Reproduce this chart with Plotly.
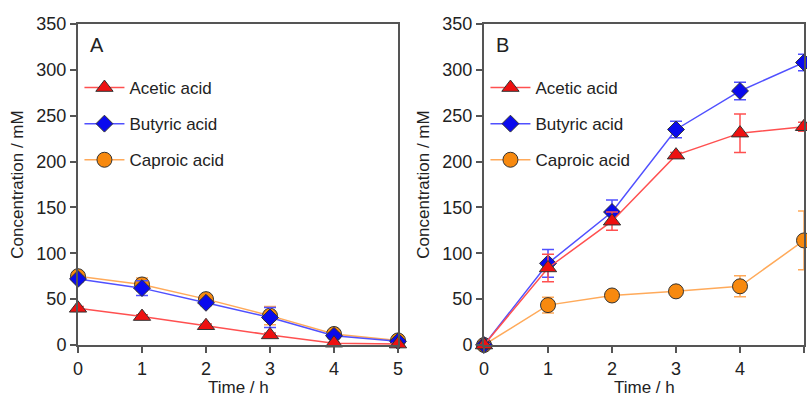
import plotly.graph_objects as go

time = [0, 1, 2, 3, 4, 5]

# Panel A
a_acetic = [40, 31, 21, 11, 2, 1]
a_acetic_err = [2, 2, 2, 2, 1, 1]
a_butyric = [72, 62, 46, 30, 10, 4]
a_butyric_err = [3, 8, 3, 11, 3, 2]
a_caproic = [75, 66, 50, 32, 12, 5]
a_caproic_err = [3, 7, 3, 10, 3, 2]

# Panel B
b_acetic = [0, 84, 135, 207, 231, 238]
b_acetic_err = [1, 15, 10, 3, 21, 5]
b_butyric = [0, 89, 145, 235, 277, 308]
b_butyric_err = [1, 15, 13, 9, 9.5, 9]
b_caproic = [0, 43.5, 54, 58.5, 64, 114]
b_caproic_err = [1, 8.5, 3, 3, 11.5, 32]

series_names = ["Acetic acid", "Butyric acid", "Caproic acid"]
panel_labels = ["A", "B"]
x_title = "Time / h"
y_title = "Concentration / mM"

FONT = "Arial, Liberation Sans, Helvetica, sans-serif"
styles = {
    "Acetic acid": dict(line="#ff5050", fill="#ee1010", symbol="triangle-up", size=15),
    "Butyric acid": dict(line="#5050ff", fill="#0a0aee", symbol="diamond", size=13),
    "Caproic acid": dict(line="#ffaa5a", fill="#f7890f", symbol="circle", size=15),
}

fig = go.Figure()
panels = [
    ("x", "y", "legend", {"Acetic acid": (a_acetic, a_acetic_err), "Butyric acid": (a_butyric, a_butyric_err), "Caproic acid": (a_caproic, a_caproic_err)}),
    ("x2", "y2", "legend2", {"Acetic acid": (b_acetic, b_acetic_err), "Butyric acid": (b_butyric, b_butyric_err), "Caproic acid": (b_caproic, b_caproic_err)}),
]
for xa, ya, lg, data in panels:
    # draw order: caproic bottom, acetic top
    for name in reversed(series_names):
        vals, errs = data[name]
        st = styles[name]
        fig.add_trace(go.Scatter(
            x=time, y=vals, name=name, mode="lines+markers",
            xaxis=xa, yaxis=ya, legend=lg, legendgroup=lg + name,
            legendrank=series_names.index(name) + 1,
            line=dict(color=st["line"], width=1.5),
            marker=dict(symbol=st["symbol"], size=st["size"], color=st["fill"],
                        line=dict(color="#333333", width=1)),
            error_y=dict(type="data", array=errs, color=st["line"], thickness=1.5, width=6),
            cliponaxis=False,
        ))

W, H = 807, 396
ml, mr, mt, mb = 78, 3, 24, 51
pw = W - ml - mr
ph = H - mt - mb
dA = [0, (398 - 78) / pw]
dB = [(484 - 78) / pw, 1]

axis_common = dict(
    showline=True, linewidth=2, linecolor="#555555", mirror=True,
    ticks="outside", ticklen=6, tickwidth=2, tickcolor="#555555",
    showgrid=False, zeroline=False, automargin=False,
    tickfont=dict(family=FONT, size=18, color="#222222"),
)
xcommon = dict(axis_common, range=[0, 5], dtick=1, tick0=0)
ycommon = dict(axis_common, range=[0, 350], dtick=50, tick0=0,
               title=dict(text=y_title, font=dict(family=FONT, size=17, color="#222222"), standoff=8))

legend_common = dict(
    font=dict(family=FONT, size=17, color="#222222"),
    bgcolor="rgba(0,0,0,0)", traceorder="grouped", tracegroupgap=11,
    yanchor="top", xanchor="left", itemwidth=40,
)

fig.update_layout(
    width=W, height=H,
    margin=dict(l=ml, r=mr, t=mt, b=mb, autoexpand=False),
    paper_bgcolor="white", plot_bgcolor="white",
    font=dict(family=FONT),
    xaxis=dict(xcommon, domain=dA, anchor="y"),
    yaxis=dict(ycommon, domain=[0, 1], anchor="x"),
    xaxis2=dict(xcommon, domain=dB, anchor="y2"),
    yaxis2=dict(ycommon, domain=[0, 1], anchor="x2"),
    legend=dict(legend_common, x=dA[0] + 0.002, y=1 - 46 / ph),
    legend2=dict(legend_common, x=dB[0] + 0.002, y=1 - 46 / ph),
    showlegend=True,
)

for lab, dom in zip(panel_labels, [dA, dB]):
    fig.add_annotation(text=lab, xref="paper", yref="paper",
                       x=dom[0] + 10 / pw, y=1 - 8 / ph,
                       xanchor="left", yanchor="top", showarrow=False,
                       font=dict(family=FONT, size=20, color="#222222"))
    fig.add_annotation(text=x_title, xref="paper", yref="paper",
                       x=(dom[0] + dom[1]) / 2, y=-(388 - 345) / ph,
                       xanchor="center", yanchor="middle", showarrow=False,
                       font=dict(family=FONT, size=17, color="#222222"))

fig.write_html("out.html", config={"displayModeBar": False},
               post_script="document.body.style.margin='0';document.body.style.overflow='hidden';")
